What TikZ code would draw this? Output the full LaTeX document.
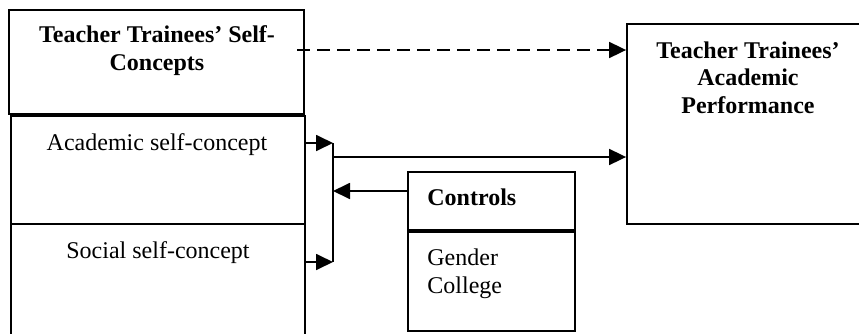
\documentclass[tikz,border=0pt]{standalone}
\usepackage{fontspec}
\setmainfont{Liberation Serif}
\usetikzlibrary{arrows.meta}

\tikzset{
	caja/.style={draw, line width=.9pt, inner sep=0pt},
	texto/.style={font=\fontsize{12}{13.75}\selectfont, inner sep=0pt, anchor=base},
	titulo/.style={texto, font=\fontsize{12}{13.75}\selectfont\bfseries, align=center},
	flecha/.style={line width=.9pt, -{Triangle[length=8.5pt,width=8pt]}}
}

\begin{document}
\begin{tikzpicture}[x=.5pt,y=-.5pt]
			\useasboundingbox (0,0) rectangle (859,333);
			%cajas%
			\node[caja, minimum width=147.5pt, minimum height=52pt] (sc) at (156.5,62) {};
			\node[caja, minimum width=147pt, minimum height=54pt] (acad) at (158,170) {};
			\node[caja, minimum width=147pt, minimum height=60.5pt] (soc) at (158,284.5) {};
			\node[caja, minimum width=121.5pt, minimum height=100pt] (perf) at (748.5,124) {};
			\node[caja, minimum width=83.5pt, minimum height=29pt] (ctrl) at (491.5,201) {};
			\node[caja, minimum width=83.5pt, minimum height=49.5pt] (vars) at (491.5,281.5) {};
			%textos (base = ultima linea)%
			\node[titulo] (sctext) at (157,70) {Teacher Trainees' Self-\\Concepts};
			\node[texto] (acadtext) at (157,150) {Academic self-concept};
			\node[texto] (soctext) at (158,258) {Social self-concept};
			\node[titulo] (perftext) at (748,113) {Teacher Trainees'\\Academic\\Performance};
			\node[texto, anchor=base west, font=\fontsize{12}{13.75}\selectfont\bfseries] (ctrltext) at (427,205) {Controls};
			\node[texto, anchor=base west, align=left] (varstext) at (427,293) {Gender\\College};
			%flechas%
			\coordinate (bartop) at (333,143);
			\coordinate (barbot) at (333,262);
			\coordinate (barmid) at (333,157);
			\coordinate (barctl) at (333,191);
			\coordinate (dstart) at (297,50);
			\draw[flecha] (acad.east |- bartop) -- (bartop);
			\draw[flecha] (soc.east |- barbot) -- (barbot);
			\draw[line width=.9pt] (bartop) -- (barbot);
			\draw[flecha] (barmid) -- (perf.west |- barmid);
			\draw[flecha] (ctrl.west |- barctl) -- (barctl);
			\draw[flecha, dash pattern=on 6.5pt off 3.5pt] (dstart) -- (perf.west |- dstart);
\end{tikzpicture}
\end{document}
